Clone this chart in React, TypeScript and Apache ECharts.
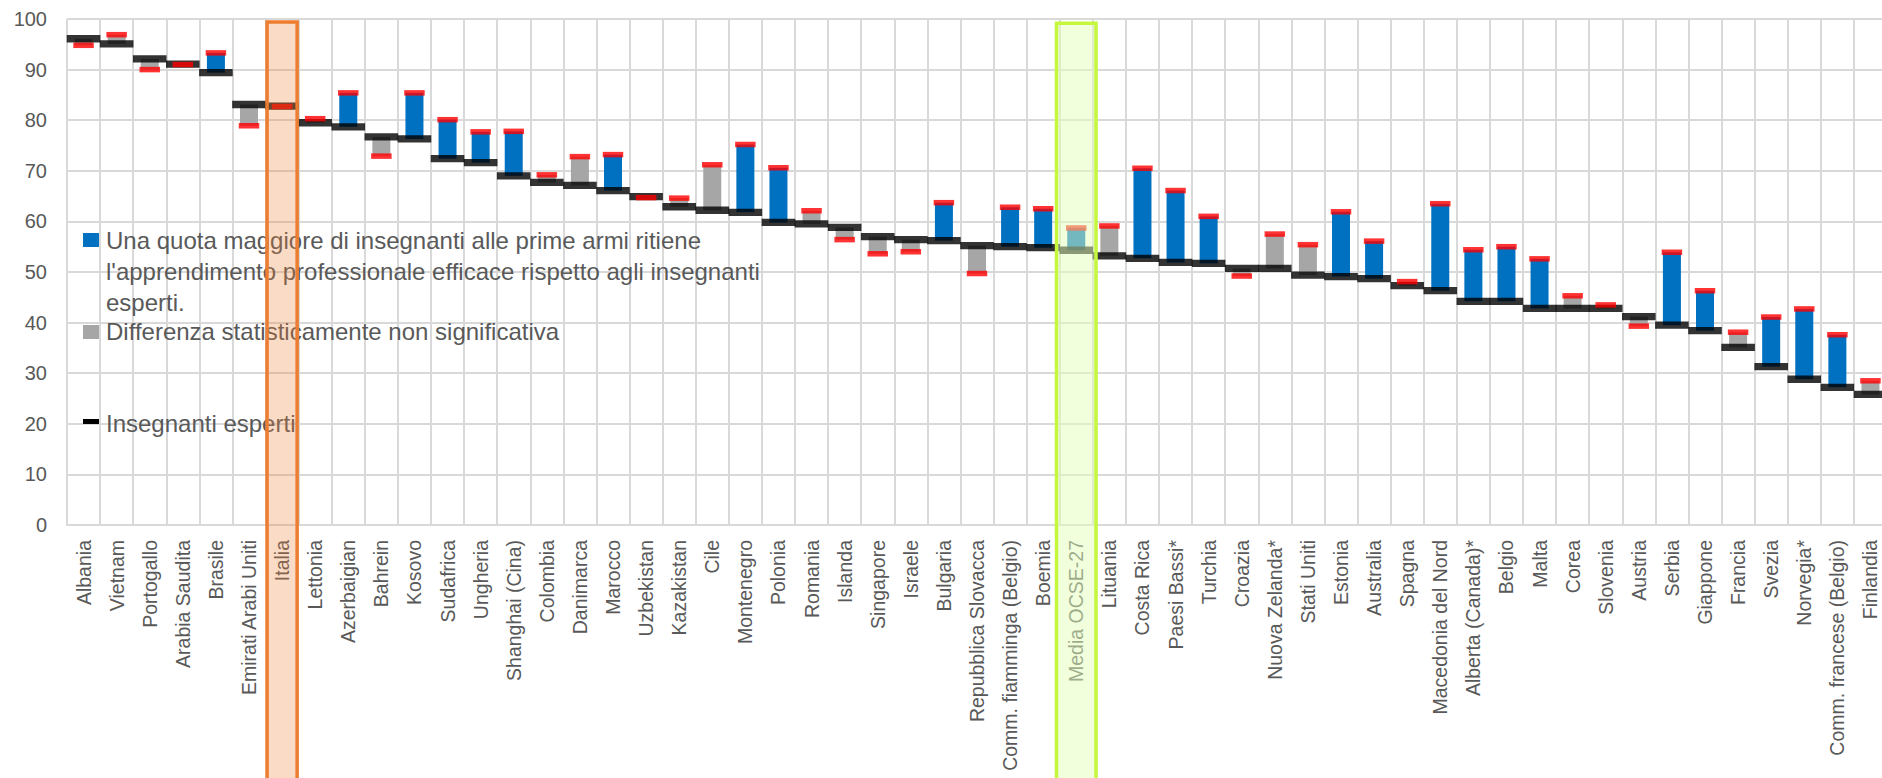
import React, { useEffect, useRef } from "react";
import * as echarts from "echarts";

const categories = [
  "Albania", "Vietnam", "Portogallo", "Arabia Saudita", "Brasile", "Emirati Arabi Uniti", "Italia",
  "Lettonia", "Azerbaigian", "Bahrein", "Kosovo", "Sudafrica", "Ungheria", "Shanghai (Cina)",
  "Colombia", "Danimarca", "Marocco", "Uzbekistan", "Kazakistan", "Cile", "Montenegro", "Polonia",
  "Romania", "Islanda", "Singapore", "Israele", "Bulgaria", "Repubblica Slovacca",
  "Comm. fiamminga (Belgio)", "Boemia", "Media OCSE-27", "Lituania", "Costa Rica", "Paesi Bassi*",
  "Turchia", "Croazia", "Nuova Zelanda*", "Stati Uniti", "Estonia", "Australia", "Spagna",
  "Macedonia del Nord", "Alberta (Canada)*", "Belgio", "Malta", "Corea", "Slovenia", "Austria",
  "Serbia", "Giappone", "Francia", "Svezia", "Norvegia*", "Comm. francese (Belgio)", "Finlandia",
];

// Insegnanti esperti (black markers)
const expertValues = [
  96.1, 95.1, 92.1, 91.1, 89.4, 83.1, 82.8, 79.5, 78.7, 76.7, 76.3, 72.4, 71.6, 69.0, 67.7, 67.1,
  66.1, 64.9, 62.9, 62.2, 61.8, 59.8, 59.5, 58.8, 57.0, 56.4, 56.2, 55.2, 55.0, 54.8, 54.3, 53.2,
  52.7, 51.9, 51.7, 50.7, 50.7, 49.4, 49.1, 48.7, 47.3, 46.3, 44.2, 44.2, 42.8, 42.8, 42.8, 41.2,
  39.5, 38.4, 35.1, 31.3, 28.8, 27.2, 25.8,
];

// Insegnanti alle prime armi (red markers)
const noviceValues = [
  94.8, 96.9, 90.0, 91.0, 93.3, 78.9, 82.7, 80.3, 85.4, 72.9, 85.4, 80.1, 77.7, 77.8, 69.2, 72.8,
  73.2, 64.7, 64.6, 71.2, 75.2, 70.6, 62.1, 56.4, 53.6, 54.0, 63.7, 49.7, 62.8, 62.5, 58.7, 59.1,
  70.5, 66.1, 61.0, 49.2, 57.5, 55.4, 61.9, 56.1, 48.1, 63.5, 54.4, 55.0, 52.6, 45.3, 43.5, 39.3,
  53.9, 46.3, 38.1, 41.1, 42.7, 37.6, 28.5,
];

// 1 = significant difference (blue), 0 = not significant (grey)
const significant = [
  0, 0, 0, 0, 1, 0, 0, 0, 1, 0, 1, 1, 1, 1, 0, 0, 1, 0, 0, 0, 1, 1, 0, 0, 0, 0, 1, 0, 1, 1, 1, 0,
  1, 1, 1, 0, 0, 0, 1, 1, 0, 1, 1, 1, 1, 0, 0, 0, 1, 1, 0, 1, 1, 1, 0,
];

const yTicks = [0, 100, 10];

const legendBlue =
  "Una quota maggiore di insegnanti alle prime armi ritiene\nl'apprendimento professionale efficace rispetto agli insegnanti\nesperti.";
const legendGray = "Differenza statisticamente non significativa";
const legendBlack = "Insegnanti esperti";

const highlightItaly = "Italia";
const highlightOecd = "Media OCSE-27";

const FONT = "'Liberation Sans', Arial, sans-serif";
const TXT = "#595959";
const GRID = "#D9D9D9";

export default function App() {
  const ref = useRef<HTMLDivElement>(null);

  useEffect(() => {
    if (!ref.current) return;
    const chart = echarts.init(ref.current, undefined, { renderer: "svg" });

    const base = expertValues.map((e, i) => Math.min(e, noviceValues[i]));
    const diffSig = expertValues.map((e, i) =>
      significant[i] ? +Math.abs(noviceValues[i] - e).toFixed(2) : 0
    );
    const diffNs = expertValues.map((e, i) =>
      significant[i] ? 0 : +Math.abs(noviceValues[i] - e).toFixed(2)
    );

    chart.setOption({
      animation: false,
      backgroundColor: "#ffffff",
      grid: {
        left: 67,
        right: -5,
        top: 19,
        bottom: 253,
        containLabel: false,
        outerBoundsMode: "none",
      },
      xAxis: {
        type: "category",
        data: categories,
        boundaryGap: true,
        axisLine: { show: true, lineStyle: { color: GRID, width: 2 } },
        axisTick: { show: false },
        splitLine: { show: true, lineStyle: { color: GRID, width: 2 } },
        axisLabel: {
          interval: 0,
          rotate: 90,
          margin: 15,
          fontSize: 19.5,
          color: TXT,
          fontFamily: FONT,
        },
      },
      yAxis: {
        type: "value",
        min: yTicks[0],
        max: yTicks[1],
        interval: yTicks[2],
        axisLine: { show: false },
        axisTick: { show: false },
        splitLine: { show: true, lineStyle: { color: GRID, width: 2 } },
        axisLabel: { fontSize: 20, color: TXT, fontFamily: FONT, margin: 20 },
      },
      series: [
        {
          type: "bar",
          name: "base",
          stack: "d",
          barWidth: 18,
          data: base,
          itemStyle: { color: "transparent" },
          silent: true,
        },
        {
          type: "bar",
          name: legendBlue,
          stack: "d",
          barWidth: 18,
          data: diffSig,
          itemStyle: { color: "#0070C0" },
        },
        {
          type: "bar",
          name: legendGray,
          stack: "d",
          barWidth: 18,
          data: diffNs,
          itemStyle: { color: "#A6A6A6" },
        },
        {
          type: "scatter",
          name: legendBlack,
          symbol: "rect",
          symbolSize: [33.6, 7.3],
          data: expertValues,
          itemStyle: { color: "#000000" },
          z: 3,
        },
        {
          type: "scatter",
          name: "Insegnanti alle prime armi",
          symbol: "rect",
          symbolSize: [20.5, 5.5],
          data: noviceValues,
          itemStyle: { color: "#FF0000" },
          z: 4,
        },
      ],
    });

    const cx = (name: string) => chart.convertToPixel({ xAxisIndex: 0 }, name) as number;
    const band = cx(categories[1]) - cx(categories[0]);
    const yTop = chart.convertToPixel({ yAxisIndex: 0 }, 100) as number;
    const xIt = cx(highlightItaly);
    const xMe = cx(highlightOecd);

    chart.setOption({
      graphic: [
        // legend
        { type: "rect", z: 50, shape: { x: 83, y: 233, width: 16, height: 14 }, style: { fill: "#0070C0" } },
        {
          type: "text", z: 50, x: 106, y: 224.5,
          style: { text: legendBlue, fill: TXT, font: `24px ${FONT}`, lineHeight: 31, verticalAlign: "top" },
        },
        { type: "rect", z: 50, shape: { x: 83, y: 325, width: 16, height: 14 }, style: { fill: "#A6A6A6" } },
        {
          type: "text", z: 50, x: 106, y: 331,
          style: { text: legendGray, fill: TXT, font: `24px ${FONT}`, verticalAlign: "middle" },
        },
        { type: "rect", z: 50, shape: { x: 83, y: 419, width: 16, height: 5 }, style: { fill: "#000000" } },
        {
          type: "text", z: 50, x: 106, y: 423,
          style: { text: legendBlack, fill: TXT, font: `24px ${FONT}`, verticalAlign: "middle" },
        },
        // highlight overlays
        {
          type: "rect", z: 100,
          shape: { x: xIt - band / 2 + 1.5, y: yTop + 3, width: band - 3, height: 800 },
          style: { fill: "rgba(237,125,49,0.28)", stroke: "#ED7D31", lineWidth: 3.5 },
          silent: true,
        },
        {
          type: "rect", z: 100,
          shape: { x: xMe - band / 2 - 3.2, y: yTop + 4.3, width: band + 6.4, height: 800 },
          style: { fill: "rgba(228,255,188,0.5)", stroke: "#C5F73C", lineWidth: 3.5 },
          silent: true,
        },
      ],
    });

    return () => chart.dispose();
  }, []);

  return (
    <div style={{ position: "absolute", left: 0, top: 0, width: 1882, height: 778, overflow: "hidden", background: "#fff" }}>
      <div ref={ref} style={{ width: 1882, height: 778 }} />
    </div>
  );
}
